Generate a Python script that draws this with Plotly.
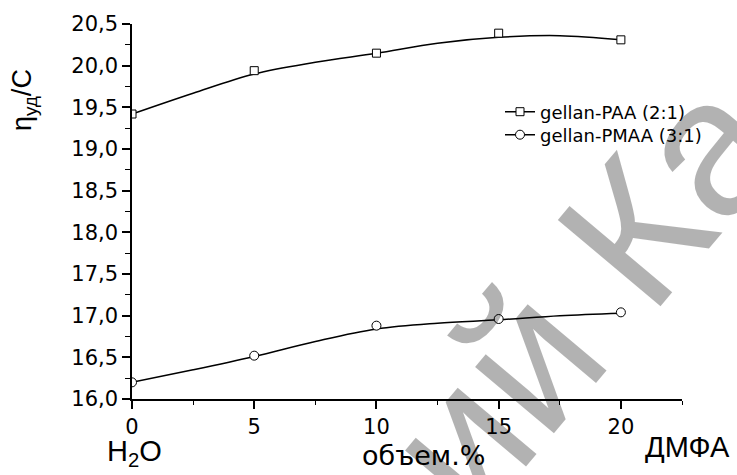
import plotly.graph_objects as go

# ---- data ----
x_pts = [0, 5, 10, 15, 20]
paa_pts = [19.42, 19.94, 20.15, 20.39, 20.31]
pmaa_pts = [16.20, 16.52, 16.88, 16.96, 17.04]

fit_x = [0, 2.5, 5, 7.5, 10, 12.5, 15, 17.5, 20]
paa_fit = [19.42, 19.67, 19.90, 20.04, 20.15, 20.27, 20.34, 20.36, 20.31]
pmaa_fit = [16.20, 16.35, 16.51, 16.69, 16.84, 16.91, 16.95, 17.00, 17.03]

x_ticks = [0, 5, 10, 15, 20]
series_names = ["gellan-PAA (2:1)", "gellan-PMAA (3:1)"]

FONT = "Liberation Sans, Arial, sans-serif"
WIDE = "DejaVu Sans, Verdana, sans-serif"

fig = go.Figure()

# fitted curves
fig.add_trace(go.Scatter(x=fit_x, y=paa_fit, mode="lines", line=dict(color="black", width=1.5, shape="spline"),
                         showlegend=False, hoverinfo="skip"))
fig.add_trace(go.Scatter(x=fit_x, y=pmaa_fit, mode="lines", line=dict(color="black", width=1.5, shape="spline"),
                         showlegend=False, hoverinfo="skip"))
# measured points
fig.add_trace(go.Scatter(x=x_pts, y=paa_pts, mode="markers",
                         marker=dict(symbol="square", size=8, color="white", line=dict(color="black", width=1)),
                         showlegend=False))
fig.add_trace(go.Scatter(x=x_pts, y=pmaa_pts, mode="markers",
                         marker=dict(symbol="circle", size=9, color="white", line=dict(color="black", width=1)),
                         showlegend=False))
# legend entries
fig.add_trace(go.Scatter(x=[None], y=[None], mode="lines+markers", name=series_names[0], legend="legend",
                         line=dict(color="black", width=1.5),
                         marker=dict(symbol="square", size=8, color="white", line=dict(color="black", width=1))))
fig.add_trace(go.Scatter(x=[None], y=[None], mode="lines+markers", name=series_names[1], legend="legend2",
                         line=dict(color="black", width=1.5),
                         marker=dict(symbol="circle", size=9, color="white", line=dict(color="black", width=1))))

axis_common = dict(showline=True, linecolor="black", linewidth=1.5, ticks="outside", tickcolor="black",
                   tickwidth=1.5, ticklen=8, showgrid=False, zeroline=False,
                   tickfont=dict(family=WIDE, size=21, color="black"))

legend_common = dict(xanchor="left", yanchor="middle", bgcolor="rgba(0,0,0,0)",
                     font=dict(family=WIDE, size=18, color="black"))

fig.update_layout(
    width=737, height=475,
    margin=dict(l=132, r=55, t=24, b=76),
    paper_bgcolor="white", plot_bgcolor="white",
    separators=", ",
    xaxis=dict(range=[0, 22.5], tickvals=x_ticks,
               minor=dict(dtick=2.5, ticks="outside", ticklen=4, tickcolor="black", tickwidth=1.2),
               **axis_common),
    yaxis=dict(range=[16, 20.5], dtick=0.5, tickformat=".1f",
               minor=dict(dtick=0.25, ticks="outside", ticklen=5, tickcolor="black", tickwidth=1.2),
               **axis_common),
    legend=dict(x=(500 - 132) / 550, y=(399 - 112) / 375, **legend_common),
    legend2=dict(x=(500 - 132) / 550, y=(399 - 135) / 375, **legend_common),
    annotations=[
        dict(text="η<sub>уд</sub>/C", xref="paper", yref="paper", x=(24 - 132) / 550, y=(399 - 100) / 375,
             textangle=-90, showarrow=False, xanchor="center", yanchor="middle",
             font=dict(family=FONT, size=27, color="black")),
        dict(text="H<sub>2</sub>O", xref="paper", yref="paper", x=(134 - 132) / 550, y=(399 - 453) / 375,
             showarrow=False, xanchor="center", yanchor="middle",
             font=dict(family=FONT, size=29, color="black")),
        dict(text="объем.%", xref="paper", yref="paper", x=(423 - 132) / 550, y=(399 - 455) / 375,
             showarrow=False, xanchor="center", yanchor="middle",
             font=dict(family=WIDE, size=27, color="black")),
        dict(text="ДМФА", xref="paper", yref="paper", x=(687 - 132) / 550, y=(399 - 447) / 375,
             showarrow=False, xanchor="center", yanchor="middle",
             font=dict(family=FONT, size=29, color="black")),
        dict(text="ий Ка", xref="paper", yref="paper", x=(582 - 132) / 550, y=(399 - 294) / 375,
             textangle=-50, showarrow=False, xanchor="center", yanchor="middle",
             font=dict(family=FONT, size=195, color="rgba(0,0,0,0.3)")),
    ],
)

fig.write_html("out.html")
